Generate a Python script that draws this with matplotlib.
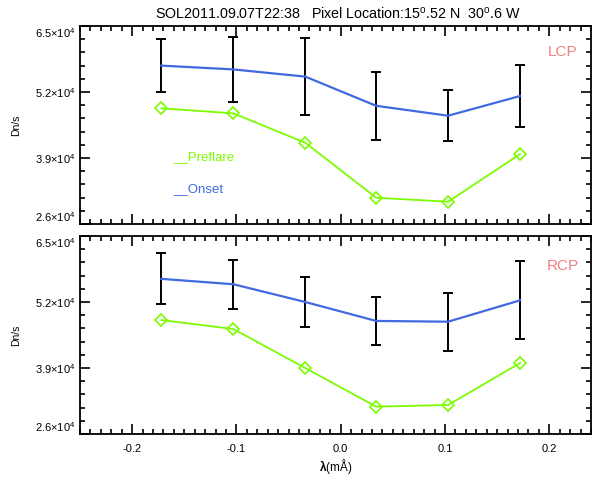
import matplotlib
matplotlib.use("Agg")
import matplotlib.pyplot as plt
from matplotlib.ticker import MultipleLocator, FixedLocator, FuncFormatter
import numpy as np

plt.rcParams['font.family'] = ['Liberation Sans', 'DejaVu Sans']
plt.rcParams['mathtext.fontset'] = 'custom'
plt.rcParams['mathtext.rm'] = 'Liberation Sans'
plt.rcParams['mathtext.it'] = 'Liberation Sans:italic'
plt.rcParams['mathtext.bf'] = 'Liberation Sans:bold'

wavelength = [-0.172, -0.103, -0.034, 0.034, 0.103, 0.172]

lcp_onset = [57200, 56450, 55030, 49280, 47330, 51210]
lcp_onset_err = [5160, 6340, 7650, 6670, 5000, 6170]
lcp_preflare = [48790, 47800, 42010, 31180, 30390, 39780]

rcp_onset = [56560, 55500, 52000, 48270, 48120, 52330]
rcp_onset_err = [5000, 4860, 4990, 4700, 5710, 7690]
rcp_preflare = [48450, 46680, 39000, 31390, 31710, 39980]

yticks = [26000, 39000, 52000, 65000]
title = "SOL2011.09.07T22:38   Pixel Location:15$^{\\rm o}$.52 N  30$^{\\rm o}$.6 W"

fig = plt.figure(figsize=(5.97, 4.78), dpi=100)
W, H = 597, 478
def ax_rect(x0, y0, x1, y1):
    return [x0 / W, 1 - y1 / H, (x1 - x0) / W, (y1 - y0) / H]

ax1 = fig.add_axes(ax_rect(80, 26, 591, 224))
ax2 = fig.add_axes(ax_rect(80, 236, 591, 434))

blue = '#4169E1'
green = '#7CFC00'
coral = '#F08080'

def fmt(v, pos):
    return "%.1f$\\times$10$^{4}$" % (v / 1e4)

for ax, onset, err, pre, lab, ly in [(ax1, lcp_onset, lcp_onset_err, lcp_preflare, 'LCP', 0.869),
                                     (ax2, rcp_onset, rcp_onset_err, rcp_preflare, 'RCP', 0.848)]:
    ax.errorbar(wavelength, onset, yerr=err, fmt='none', ecolor='black',
                elinewidth=1.4, capsize=3.5, capthick=1.4, zorder=2)
    ax.plot(wavelength, onset, color=blue, lw=1.6, zorder=3)
    ax.plot(wavelength, pre, color=green, lw=1.3, marker='D', markersize=6,
            markerfacecolor='none', markeredgecolor=green, markeredgewidth=1.2, zorder=3)
    ax.set_xlim(-0.25, 0.24)
    ax.set_ylim(26000, 65000)
    ax.yaxis.set_major_locator(FixedLocator(yticks))
    ax.yaxis.set_minor_locator(MultipleLocator(2600))
    ax.xaxis.set_major_locator(MultipleLocator(0.1))
    ax.xaxis.set_minor_locator(MultipleLocator(0.01))
    ax.yaxis.set_major_formatter(FuncFormatter(fmt))
    ax.tick_params(which='both', direction='in', top=True, right=True, width=1.2, labelsize=8)
    ax.tick_params(axis='x', which='major', pad=7)
    ax.tick_params(which='major', length=7)
    ax.tick_params(which='minor', length=3.5)
    for s in ax.spines.values():
        s.set_linewidth(1.3)
    ax.set_ylabel('Dn/s', fontsize=7.5, labelpad=10)
    ax.text(0.945, ly, lab, transform=ax.transAxes, color=coral, fontsize=11, ha='center', va='center')
    ticks = ax.yaxis.get_major_ticks()
    ticks[0].label1.set_verticalalignment('bottom')
    ticks[-1].label1.set_verticalalignment('top')

ax1.tick_params(labelbottom=False)
ax2.set_xlabel('$\\mathbf{\\lambda}$(mÅ)', fontsize=8.5, labelpad=2)
ax2.xaxis.set_major_formatter(FuncFormatter(lambda v, p: "%.1f" % v))

ax1.text(0.182, 0.338, '__Preflare', transform=ax1.transAxes, color=green, fontsize=9.5, ha='left', va='center')
ax1.text(0.182, 0.177, '__Onset', transform=ax1.transAxes, color=blue, fontsize=9.5, ha='left', va='center')

fig.text(338 / W, 1 - 14 / H, title, ha='center', va='center', fontsize=10.3)

fig.savefig('out.png', dpi=100)
